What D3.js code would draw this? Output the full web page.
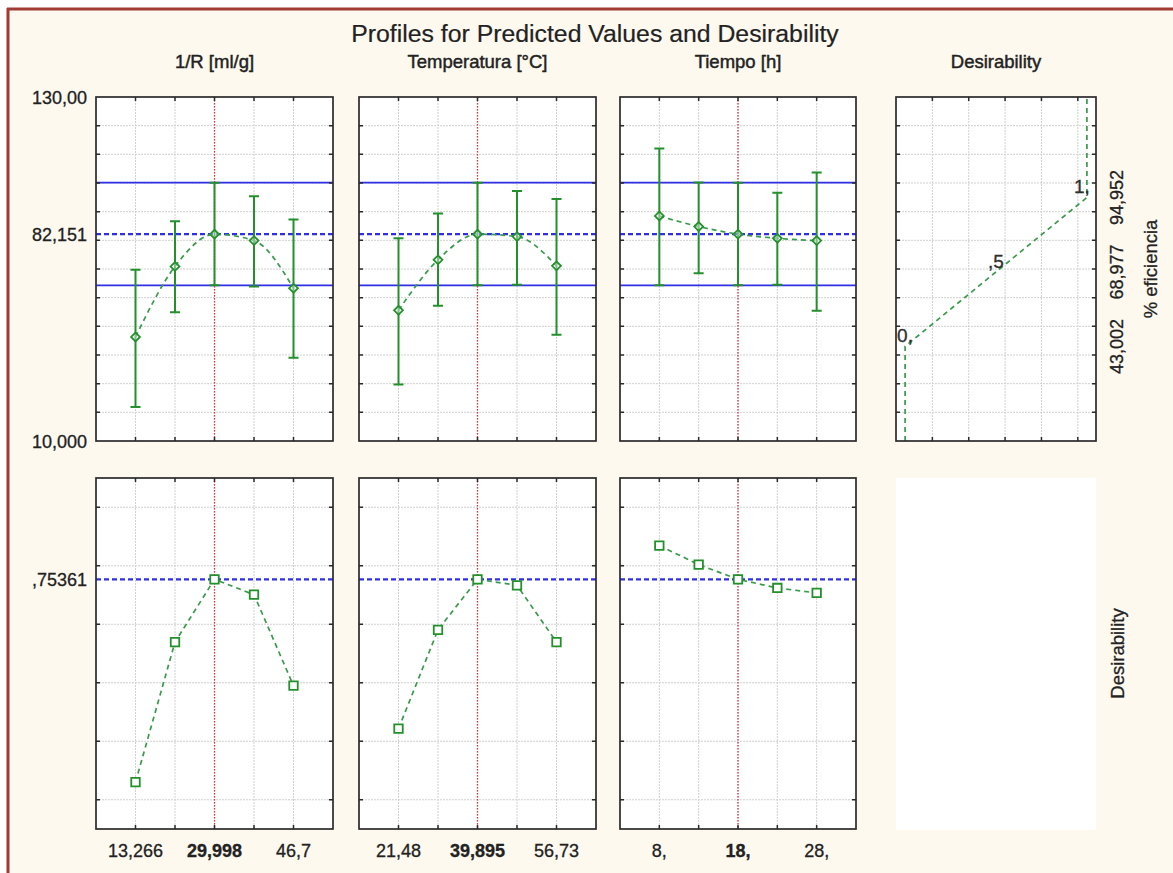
<!DOCTYPE html>
<html><head><meta charset="utf-8">
<script src="https://cdn.jsdelivr.net/npm/d3@7"></script>
<style>
body{margin:0;background:#fff;}
svg{display:block;font-family:"Liberation Sans",Arial,sans-serif;}
svg text{stroke:#222;stroke-width:0.3px;}
</style>
</head><body>
<svg id="c" width="1173" height="873"></svg>
<script>
// ---------------- DATA ----------------
const title = "Profiles for Predicted Values and Desirability";
const factorNames = ["1/R [ml/g]", "Temperatura [°C]", "Tiempo [h]"];
const desirabilityName = "Desirability";
const responseName = "% eficiencia";
const levelLabels = [
  ["13,266", "", "29,998", "", "46,7"],
  ["21,48", "", "39,895", "", "56,73"],
  ["8,", "", "18,", "", "28,"]
];
const currentLevel = 2;            // index of current (bold) setting
// predicted % eficiencia at each level, with confidence limits
const pred = [
  [46.3, 70.9, 82.151, 79.9, 63.3],
  [55.6, 73.2, 82.151, 81.3, 71.1],
  [88.5, 84.8, 82.151, 80.7, 79.9]
];
const predLow = [
  [21.9, 54.9, 64.3, 63.9, 39.0],
  [29.7, 57.2, 64.3, 64.5, 47.1],
  [64.3, 68.5, 64.3, 64.5, 55.4]
];
const predHigh = [
  [69.7, 86.7, 100.1, 95.4, 87.3],
  [80.7, 89.4, 100.1, 97.2, 94.4],
  [112.0, 100.2, 100.1, 96.6, 103.7]
];
// desirability at each level
const desir = [
  [0.060, 0.539, 0.7536, 0.701, 0.390],
  [0.243, 0.581, 0.7536, 0.733, 0.539],
  [0.869, 0.804, 0.7536, 0.724, 0.707]
];
const currentPred = 82.151;
const currentPredLow = 64.3;
const currentPredHigh = 100.1;
const currentDesir = 0.75361;
const currentDesirLabel = ",75361";
// response axis
const respDomain = [10, 130];
const respTickValues = [130, 82.151, 10];
const respTickLabels = ["130,00", "82,151", "10,000"];
const respGrid = [20, 30, 40, 50, 60, 70, 80, 90, 100, 110, 120];
// desirability axis (bottom row)
const desDomain = [-0.1, 1.1];
const desGrid = [0, 0.2, 0.4, 0.6, 0.8, 1.0];
// desirability function (top-right panel)
const dfDesir = [0, 0, 1, 1];
const dfResp = [10, 43.002, 94.952, 130];
const dfLabelDesir = [0, 0.5, 1];
const dfLabelResp = [43.002, 68.977, 94.952];
const dfLabels = ["0,", ",5", "1,"];
const dfRightLabels = ["43,002", "68,977", "94,952"];
const dfXDomain = [-0.05, 1.05];
const dfXGrid = [0.15, 0.35, 0.55, 0.75, 0.95];

// ---------------- LAYOUT ----------------
const W = 1173, H = 873;
const cols = [{x: 96, w: 237}, {x: 359, w: 237}, {x: 620, w: 236}];
const dcol = {x: 896, w: 200};
const topRow = {y: 97, h: 344};
const botRow = {y: 478, h: 351};
const green = "#23902c", greenLine = "#3a9a4c", blue = "#2f2fe6", red = "#e0343a";
const frameCol = "#2b2b2b", gridCol = "#d0d0d0";

const svg = d3.select("#c");
svg.append("rect").attr("width", W).attr("height", H).attr("fill", "#ffffff");
svg.append("rect").attr("x", 7).attr("y", 8).attr("width", W).attr("height", H).attr("fill", "#fdf9ef");
svg.append("line").attr("x1", 7).attr("x2", W).attr("y1", 9).attr("y2", 9).attr("stroke", "#a23a34").attr("stroke-width", 3);
svg.append("line").attr("x1", 8).attr("x2", 8).attr("y1", 8).attr("y2", H).attr("stroke", "#a23a34").attr("stroke-width", 3);

svg.append("text").attr("x", 595).attr("y", 42).attr("text-anchor", "middle")
  .attr("font-size", 24.8).attr("fill", "#222").style("stroke-width", "0.2px").text(title);

const headers = factorNames.concat([desirabilityName]);
const headerX = cols.map(c => c.x + c.w / 2).concat([dcol.x + dcol.w / 2]);
headers.forEach((h, i) => {
  svg.append("text").attr("x", headerX[i]).attr("y", 68).attr("text-anchor", "middle")
    .attr("font-size", 18.5).attr("fill", "#222").style("stroke-width", "0.45px").text(h);
});

const yTop = d3.scaleLinear().domain(respDomain).range([topRow.y + topRow.h, topRow.y]);
const yBot = d3.scaleLinear().domain(desDomain).range([botRow.y + botRow.h, botRow.y]);

function panel(x, y, xGrid, yGrid) {
  const g = svg.append("g");
  const [x0, x1] = x.range(); const [y1, y0] = y.range();
  g.append("rect").attr("x", x0).attr("y", y0).attr("width", x1 - x0).attr("height", y1 - y0).attr("fill", "#fff");
  g.selectAll(null).data(yGrid).join("line")
    .attr("x1", x0).attr("x2", x1).attr("y1", d => y(d)).attr("y2", d => y(d))
    .attr("stroke", gridCol).attr("stroke-width", 1).attr("stroke-dasharray", "2,1");
  g.selectAll(null).data(xGrid).join("line")
    .attr("x1", d => x(d)).attr("x2", d => x(d)).attr("y1", y0).attr("y2", y1)
    .attr("stroke", gridCol).attr("stroke-width", 1).attr("stroke-dasharray", "2,1");
  return g;
}
function frame(g, x, y, xGrid, yGrid) {
  const [x0, x1] = x.range(); const [y1, y0] = y.range();
  const t = 4;
  g.selectAll(null).data(yGrid).join("path")
    .attr("d", d => `M${x0},${y(d)}h${t}M${x1},${y(d)}h${-t}`)
    .attr("stroke", frameCol).attr("stroke-width", 1.5);
  g.selectAll(null).data(xGrid).join("path")
    .attr("d", d => `M${x(d)},${y0}v${t}M${x(d)},${y1}v${-t}`)
    .attr("stroke", frameCol).attr("stroke-width", 1.5);
  g.append("rect").attr("x", x0).attr("y", y0).attr("width", x1 - x0).attr("height", y1 - y0)
    .attr("fill", "none").attr("stroke", frameCol).attr("stroke-width", 1.7);
}

cols.forEach((c, i) => {
  const x = d3.scalePoint().domain(d3.range(5)).range([c.x, c.x + c.w]).padding(1);
  const lv = d3.range(5);
  // ---- top panel ----
  let g = panel(x, yTop, lv, respGrid);
  const [x0, x1] = x.range();
  [currentPredLow, currentPredHigh].forEach(v => {
    g.append("line").attr("x1", x0).attr("x2", x1).attr("y1", yTop(v)).attr("y2", yTop(v))
      .attr("stroke", blue).attr("stroke-width", 1.8);
  });
  g.append("line").attr("x1", x0).attr("x2", x1).attr("y1", yTop(currentPred)).attr("y2", yTop(currentPred))
    .attr("stroke", blue).attr("stroke-width", 2.2).attr("stroke-dasharray", "5,3");
  g.append("line").attr("x1", x(currentLevel)).attr("x2", x(currentLevel))
    .attr("y1", topRow.y).attr("y2", topRow.y + topRow.h)
    .attr("stroke", red).attr("stroke-width", 1.3).attr("stroke-dasharray", "1.5,1.5");
  lv.forEach(k => {
    const xx = x(k), ya = yTop(predHigh[i][k]), yb = yTop(predLow[i][k]);
    g.append("path").attr("d", `M${xx},${ya}V${yb}M${xx - 5},${ya}h10M${xx - 5},${yb}h10`)
      .attr("stroke", green).attr("stroke-width", 2).attr("fill", "none");
  });
  g.append("path").datum(lv)
    .attr("d", d3.line().x(k => x(k)).y(k => yTop(pred[i][k])).curve(d3.curveMonotoneX))
    .attr("fill", "none").attr("stroke", greenLine).attr("stroke-width", 1.7).attr("stroke-dasharray", "5,4");
  g.selectAll(null).data(lv).join("path")
    .attr("transform", k => `translate(${x(k)},${yTop(pred[i][k])})`)
    .attr("d", d3.symbol(d3.symbolDiamond2, 50))
    .attr("fill", "#fff").attr("fill-opacity", 0.4).attr("stroke", green).attr("stroke-width", 1.8);
  frame(g, x, yTop, lv, respGrid);

  // ---- bottom panel ----
  g = panel(x, yBot, lv, desGrid);
  g.append("line").attr("x1", x0).attr("x2", x1).attr("y1", yBot(currentDesir)).attr("y2", yBot(currentDesir))
    .attr("stroke", blue).attr("stroke-width", 2.2).attr("stroke-dasharray", "5,3");
  g.append("line").attr("x1", x(currentLevel)).attr("x2", x(currentLevel))
    .attr("y1", botRow.y).attr("y2", botRow.y + botRow.h)
    .attr("stroke", red).attr("stroke-width", 1.3).attr("stroke-dasharray", "1.5,1.5");
  g.append("path").datum(lv)
    .attr("d", d3.line().x(k => x(k)).y(k => yBot(desir[i][k])))
    .attr("fill", "none").attr("stroke", greenLine).attr("stroke-width", 1.7).attr("stroke-dasharray", "5,4");
  g.selectAll(null).data(lv).join("path")
    .attr("transform", k => `translate(${x(k)},${yBot(desir[i][k])})`)
    .attr("d", d3.symbol(d3.symbolSquare, 72))
    .attr("fill", "#fff").attr("stroke", green).attr("stroke-width", 1.8);
  frame(g, x, yBot, lv, desGrid);

  // x tick labels
  lv.forEach(k => {
    if (!levelLabels[i][k]) return;
    svg.append("text").attr("x", x(k)).attr("y", 857).attr("text-anchor", "middle")
      .attr("font-size", 18).attr("fill", "#222")
      .attr("font-weight", k === currentLevel ? "bold" : "normal").text(levelLabels[i][k]);
  });
});

// left axis labels
respTickValues.forEach((v, j) => {
  svg.append("text").attr("x", 87).attr("y", yTop(v) + 6.5).attr("text-anchor", "end")
    .attr("font-size", 18).attr("fill", "#222").text(respTickLabels[j]);
});
svg.append("text").attr("x", 87).attr("y", yBot(currentDesir) + 6.5).attr("text-anchor", "end")
  .attr("font-size", 18).attr("fill", "#222").text(currentDesirLabel);

// desirability function panel
const xd = d3.scaleLinear().domain(dfXDomain).range([dcol.x, dcol.x + dcol.w]);
const gd = panel(xd, yTop, dfXGrid, respGrid);
gd.append("path").datum(d3.range(dfDesir.length))
  .attr("d", d3.line().x(k => xd(dfDesir[k])).y(k => yTop(dfResp[k])))
  .attr("fill", "none").attr("stroke", greenLine).attr("stroke-width", 1.7).attr("stroke-dasharray", "5,4");
const dfAnchor = ["start", "middle", "end"], dfDx = [-8, 0, 3];
dfLabels.forEach((t, j) => {
  gd.append("text").attr("x", xd(dfLabelDesir[j]) + dfDx[j]).attr("y", yTop(dfLabelResp[j]) - 4)
    .attr("text-anchor", dfAnchor[j]).attr("font-size", 19).attr("fill", "#333").text(t);
});
frame(gd, xd, yTop, dfXGrid, respGrid);
dfRightLabels.forEach((t, j) => {
  svg.append("text").attr("transform", `translate(${1123},${yTop(dfLabelResp[j])}) rotate(-90)`)
    .attr("text-anchor", "middle").attr("font-size", 18).attr("fill", "#222").text(t);
});
svg.append("text").attr("transform", `translate(${1157},${topRow.y + topRow.h / 2}) rotate(-90)`)
  .attr("text-anchor", "middle").attr("font-size", 18.5).attr("fill", "#222").text(responseName);

// empty bottom-right box
svg.append("rect").attr("x", dcol.x).attr("y", botRow.y).attr("width", dcol.w).attr("height", botRow.h + 1)
  .attr("fill", "#fff");
svg.append("text").attr("transform", `translate(${1124},${botRow.y + botRow.h / 2}) rotate(-90)`)
  .attr("text-anchor", "middle").attr("font-size", 18.5).attr("fill", "#222").text(desirabilityName);
</script>
</body></html>
